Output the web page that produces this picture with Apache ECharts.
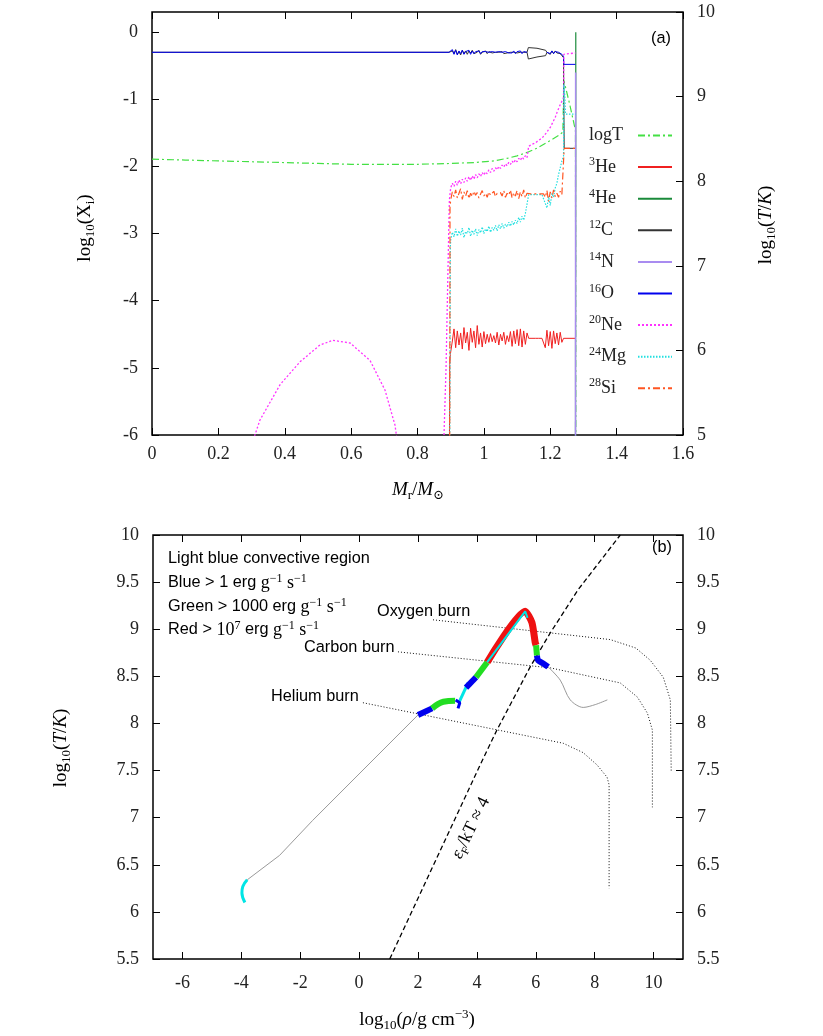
<!DOCTYPE html>
<html lang="en">
<head>
<meta charset="UTF-8" />
<title>Core composition and T-rho track</title>
<script src="https://cdn.jsdelivr.net/npm/echarts@6/dist/echarts.min.js"></script>
<style>
  html, body { margin: 0; padding: 0; background: #fff; }
  #main { width: 823px; height: 1036px; }
</style>
</head>
<body>
<div id="main"></div>
<script>
const SERIF = '"Liberation Serif", "DejaVu Serif", serif'
const SANS = '"Liberation Sans", "DejaVu Sans", sans-serif'

// ---- panel (a): abundances vs mass ----
const massTicks = [0, 0.2, 0.4, 0.6, 0.8, 1, 1.2, 1.4, 1.6]
const xiTicks = [-6, -5, -4, -3, -2, -1, 0]
const tempTicksA = [5, 6, 7, 8, 9, 10]

// mass grid of the noisy shell region
const mShell = [
  0.900, 0.905, 0.910, 0.915, 0.920, 0.925, 0.930, 0.935, 0.940, 0.945,
  0.950, 0.955, 0.960, 0.965, 0.970, 0.975, 0.980, 0.985, 0.990, 0.995,
  1.000, 1.005, 1.010, 1.015, 1.020, 1.025, 1.030, 1.035, 1.040, 1.045,
  1.050, 1.055, 1.060, 1.065, 1.070, 1.075, 1.080, 1.085, 1.090, 1.095,
  1.100, 1.105, 1.110, 1.115, 1.120, 1.125, 1.130, 1.135, 1.140, 1.145,
  1.150, 1.155, 1.160, 1.165, 1.170, 1.175, 1.180, 1.185, 1.190, 1.195,
  1.200, 1.205, 1.210, 1.215, 1.220, 1.225, 1.230, 1.235, 1.240
]

const logT = [[0, 8.26], [0.1, 8.25], [0.2, 8.24], [0.3, 8.23], [0.4, 8.22], [0.5, 8.21], [0.6, 8.2], [0.7, 8.2],
  [0.8, 8.2], [0.9, 8.21], [0.97, 8.22], [1.03, 8.24], [1.07, 8.27], [1.1, 8.3], [1.13, 8.34], [1.16, 8.39],
  [1.2, 8.48], [1.225, 8.54], [1.238, 8.58], [1.241, 9.19], [1.258, 8.92], [1.276, 8.6], [1.277, 4.9]]

const he3Rise = [[0.896, -6.5], [0.897, -4.95], [0.899, -4.8]]
const he3Shell = [
  -4.78, -4.60, -4.42, -4.70, -4.45, -4.66, -4.48, -4.72, -4.40, -4.63,
  -4.47, -4.74, -4.41, -4.62, -4.45, -4.70, -4.37, -4.65, -4.48, -4.69,
  -4.46, -4.64, -4.50, -4.62, -4.49, -4.61, -4.52, -4.63, -4.47, -4.66,
  -4.50, -4.60, -4.47, -4.65, -4.52, -4.61, -4.46, -4.68, -4.45, -4.64,
  -4.43, -4.67, -4.42, -4.69, -4.45, -4.65, -4.48, -4.56, -4.56, -4.56,
  -4.56, -4.56, -4.56, -4.56, -4.56, -4.56, -4.56, -4.70, -4.44, -4.67,
  -4.46, -4.71, -4.45, -4.64, -4.48, -4.66, -4.47, -4.62, -4.56
]
const he3Tail = [[1.276, -4.56]]

const he4 = [[1.276, -6.5], [1.277, 0]]

const c12Core = [[0, -0.3], [0.895, -0.3]]
const c12Shell = [
  -0.30, -0.28, -0.32, -0.26, -0.33, -0.29, -0.34, -0.27, -0.32, -0.28,
  -0.33, -0.28, -0.31, -0.27, -0.32, -0.30, -0.30, -0.27, -0.33, -0.30,
  -0.30, -0.28, -0.32, -0.29, -0.30, -0.31, -0.29, -0.30, -0.31, -0.30,
  -0.30, -0.29, -0.32, -0.30, -0.31, -0.29, -0.30, -0.32, -0.30, -0.29,
  -0.31, -0.29, -0.30, -0.31, -0.30, -0.29, -0.30, null, null, null,
  null, null, null, null, null, null, null, null, -0.30, -0.28,
  -0.33, -0.28, -0.32, -0.28, -0.31, -0.30, -0.32, -0.35, -0.38
]
const c12Tail = [[1.241, -0.38], [1.242, -1.73], [1.276, -1.73], [1.277, null]]
const c12Lens = [[1.13, -0.3], [1.134, -0.23], [1.16, -0.24], [1.186, -0.27], [1.19, -0.3],
  [1.186, -0.35], [1.16, -0.37], [1.134, -0.4], [1.13, -0.3]]

const n14 = [[1.276, -6.5], [1.2765, -0.6]]

const o16Core = [[0, -0.3], [0.895, -0.3]]
const o16Shell = [
  -0.30, -0.26, -0.33, -0.27, -0.34, -0.28, -0.32, -0.27, -0.33, -0.29,
  -0.31, -0.27, -0.33, -0.28, -0.32, -0.29, -0.31, -0.28, -0.32, -0.29,
  -0.31, -0.29, -0.31, -0.30, -0.31, -0.29, -0.31, -0.30, -0.30, -0.29,
  -0.31, -0.30, -0.31, -0.29, -0.30, -0.31, -0.29, -0.31, -0.28, -0.32,
  -0.29, -0.31, -0.28, -0.32, -0.29, -0.31, -0.30, null, null, null,
  null, null, null, null, null, null, null, null, -0.30, -0.28,
  -0.32, -0.28, -0.32, -0.29, -0.31, -0.30, -0.31, -0.33, -0.36
]
const o16Tail = [[1.241, -0.48], [1.276, -0.48]]

const ne20Low = [[0.29, -6.3], [0.325, -5.78], [0.386, -5.25], [0.446, -4.91], [0.506, -4.66], [0.545, -4.59],
  [0.597, -4.63], [0.657, -4.89], [0.702, -5.33], [0.732, -5.85], [0.745, -6.3], [0.878, -6.3],
  [0.886, -5.0], [0.892, -3.5], [0.896, -2.5]]
const ne20Shell = [
  -2.32, -2.25, -2.30, -2.22, -2.28, -2.20, -2.26, -2.19, -2.24, -2.17,
  -2.22, -2.15, -2.21, -2.14, -2.19, -2.12, -2.17, -2.11, -2.15, -2.09,
  -2.13, -2.08, -2.11, -2.05, -2.09, -2.03, -2.07, -2.02, -2.05, -2.00,
  -2.03, -1.98, -2.01, -1.96, -1.99, -1.94, -1.97, -1.92, -1.95, -1.90,
  -1.93, -1.88, -1.91, -1.86, -1.89, -1.84, -1.87, -1.70, -1.68, -1.67,
  -1.66, -1.65, -1.63, -1.61, -1.60, -1.58, -1.56, -1.52, -1.49, -1.45,
  -1.42, -1.37, -1.32, -1.27, -1.20, -1.14, -1.08, -1.03, -0.98
]
const ne20Tail = [[1.241, -0.33], [1.276, -0.31]]

const mg24Rise = [[0.897, -6.5], [0.899, -3.2]]
const mg24Shell = [
  -3.10, -2.98, -3.05, -2.93, -3.04, -2.96, -3.02, -2.92, -3.06, -2.97,
  -3.00, -2.91, -3.04, -2.95, -3.01, -2.93, -3.03, -2.94, -2.99, -2.90,
  -3.00, -2.93, -2.97, -2.89, -2.98, -2.91, -2.95, -2.88, -2.96, -2.87,
  -2.93, -2.85, -2.92, -2.86, -2.90, -2.83, -2.89, -2.82, -2.87, -2.80,
  -2.85, -2.76, -2.83, -2.74, -2.80, -2.70, -2.72, -2.42, -2.42, -2.42,
  -2.42, -2.42, -2.42, -2.42, -2.42, -2.42, -2.42, -2.55, -2.62, -2.45,
  -2.58, -2.40, -2.46, -2.32, -2.25, -2.12, -2.02, -1.92, -1.85
]
const mg24Tail = [[1.241, -0.78], [1.244, -0.95], [1.246, -1.22], [1.276, -1.22]]

const si28Rise = [[0.897, -6.5], [0.898, -2.6]]
const si28Shell = [
  -2.50, -2.38, -2.45, -2.35, -2.47, -2.40, -2.33, -2.49, -2.38, -2.44,
  -2.36, -2.48, -2.40, -2.45, -2.37, -2.43, -2.39, -2.47, -2.41, -2.36,
  -2.44, -2.40, -2.46, -2.38, -2.43, -2.41, -2.37, -2.45, -2.40, -2.42,
  -2.39, -2.44, -2.36, -2.46, -2.40, -2.43, -2.35, -2.47, -2.39, -2.44,
  -2.36, -2.48, -2.38, -2.45, -2.35, -2.47, -2.40, -2.41, -2.41, -2.41,
  -2.41, -2.41, -2.41, -2.41, -2.41, -2.41, -2.41, -2.46, -2.36, -2.52,
  -2.38, -2.47, -2.35, -2.45, -2.40, -2.46, -2.37, -2.42, -2.41
]
const si28Tail = [[1.241, -2.41], [1.242, -1.73], [1.276, -1.73]]

// ---- panel (b): T-rho track ----
const rhoTicks = [-6, -4, -2, 0, 2, 4, 6, 8, 10]
const tempTicksB = [5.5, 6, 6.5, 7, 7.5, 8, 8.5, 9, 9.5, 10]

const heBurn = [[0.13, 8.22], [6.93, 7.79], [7.61, 7.69], [8.08, 7.56], [8.42, 7.43], [8.49, 7.35], [8.49, 6.25]]
const cBurn = [[1.32, 8.76], [6.49, 8.59], [8.87, 8.43], [9.45, 8.28], [9.79, 8.11], [9.96, 7.93], [9.96, 7.11]]
const oBurn = [[2.51, 9.10], [8.53, 8.89], [9.4, 8.8], [9.89, 8.67], [10.33, 8.49], [10.57, 8.25], [10.6, 7.48]]
const degenLine = [[1.04, 5.5], [2.47, 6.46], [4.11, 7.56], [4.68, 7.93], [5.81, 8.6], [6.49, 8.96], [7.44, 9.42], [8.87, 10.0]]

const trackCyanStart = [[-3.88, 6.1], [-3.98, 6.2], [-3.95, 6.27], [-3.8, 6.34]]
const trackGrayLow = [[-3.8, 6.34], [-2.7, 6.6], [-1.58, 6.97], [2.0, 8.09]]
const trackBlue1 = [[2.0, 8.09], [2.48, 8.16]]
const trackGreen1 = [[2.48, 8.16], [2.86, 8.23], [3.26, 8.24]]
const trackBlueTri = [[3.28, 8.25], [3.42, 8.22], [3.36, 8.16]]
const trackCyan1 = [[3.39, 8.22], [3.7, 8.43]]
const trackBlue2 = [[3.63, 8.38], [3.97, 8.49]]
const trackGreen2 = [[3.97, 8.49], [4.35, 8.65]]
const trackRed = [[4.35, 8.65], [5.64, 9.19], [5.87, 9.07], [5.98, 8.86], [6.01, 8.83]]
const trackCyanRed = [[4.35, 8.65], [5.64, 9.19], [5.72, 9.12]]
const trackGreen3 = [[6.01, 8.83], [6.04, 8.72]]
const trackBlue3 = [[6.04, 8.72], [6.08, 8.67], [6.24, 8.64], [6.42, 8.6]]
const trackGrayHigh = [[6.42, 8.6], [6.83, 8.46], [7.17, 8.25], [7.61, 8.17], [8.02, 8.2], [8.43, 8.25]]

const onShell = ys => mShell.map((m, i) => [m, ys[i]])

function axis(gridIndex, position, min, max, ticks, showLabels, margin) {
  return {
    type: 'value', gridIndex, position, min, max,
    axisLine: { show: false, onZero: false },
    splitLine: { show: false },
    axisTick: { inside: true, length: 7, customValues: ticks, lineStyle: { color: '#000', width: 1 } },
    axisLabel: {
      show: showLabels, customValues: ticks, margin: margin || 14,
      fontFamily: SERIF, fontSize: 18, color: '#222'
    }
  }
}

function line(name, data, color, width, type, xi, yi, extra) {
  return Object.assign({
    type: 'line', name, data, xAxisIndex: xi, yAxisIndex: yi,
    symbol: 'none', showSymbol: false, animation: false, silent: true,
    lineStyle: { color, width, type: type || 'solid' },
    itemStyle: { color },
    emphasis: { disabled: true }
  }, extra || {})
}

const DASHDOT = [7, 3, 2, 3]

const topSeries = [
  line('logT', logT, '#44e044', 1.2, DASHDOT, 0, 1),
  line('3He', he3Rise.concat(onShell(he3Shell), he3Tail), '#f02020', 1, 'solid', 0, 0),
  line('4He', he4, '#1a8a3a', 1.2, 'solid', 0, 0),
  line('12C', c12Core.concat(onShell(c12Shell), c12Tail, c12Lens), '#333333', 1, 'solid', 0, 0),
  line('14N', n14, '#a98cf0', 1.5, 'solid', 0, 0),
  line('16O', o16Core.concat(onShell(o16Shell), o16Tail), '#0000ee', 1, 'solid', 0, 0),
  line('20Ne', ne20Low.concat(onShell(ne20Shell), ne20Tail), '#ff33ff', 1.3, [2, 2], 0, 0),
  line('24Mg', mg24Rise.concat(onShell(mg24Shell), mg24Tail), '#22e0e0', 1.2, [1.5, 1.5], 0, 0),
  line('28Si', si28Rise.concat(onShell(si28Shell), si28Tail), '#ff5522', 1.2, DASHDOT, 0, 0)
]

const BLUE = '#0000ee', GREEN = '#22dd22', RED = '#ee1111', CYAN = '#00e5e5', GRAY = '#9a9a9a'
const bottomSeries = [
  line('He burn', heBurn, '#111', 1, [1, 2], 2, 2),
  line('C burn', cBurn, '#111', 1, [1, 2], 2, 2),
  line('O burn', oBurn, '#111', 1, [1, 2], 2, 2),
  line('degeneracy', degenLine, '#000', 1.3, [5, 3], 2, 2),
  line('track low', trackGrayLow, GRAY, 1, 'solid', 2, 2),
  line('track high', trackGrayHigh, GRAY, 1, 'solid', 2, 2, { smooth: 0.3 }),
  line('conv start', trackCyanStart, CYAN, 3, 'solid', 2, 2, { smooth: 0.4 }),
  line('conv 1', trackCyan1, CYAN, 3, 'solid', 2, 2),
  line('blue 1', trackBlue1, BLUE, 6, 'solid', 2, 2),
  line('green 1', trackGreen1, GREEN, 6, 'solid', 2, 2, { smooth: 0.4 }),
  line('blue tri', trackBlueTri, BLUE, 3, 'solid', 2, 2),
  line('blue 2', trackBlue2, BLUE, 6, 'solid', 2, 2),
  line('green 2', trackGreen2, GREEN, 6, 'solid', 2, 2),
  line('red', trackRed, RED, 7, 'solid', 2, 2, { smooth: 0.2 }),
  line('conv red', trackCyanRed, CYAN, 2, 'solid', 2, 2),
  line('green 3', trackGreen3, GREEN, 6, 'solid', 2, 2),
  line('blue 3', trackBlue3, BLUE, 6, 'solid', 2, 2, { smooth: 0.3 })
]

const mathRich = {
  n: { fontFamily: SERIF, fontSize: 19, lineHeight: 24, color: '#222' },
  it: { fontFamily: SERIF, fontStyle: 'italic', fontSize: 19, lineHeight: 24, color: '#222' },
  sub: { fontFamily: SERIF, fontSize: 13, lineHeight: 13, verticalAlign: 'bottom', color: '#222' },
  sup: { fontFamily: SERIF, fontSize: 13, lineHeight: 13, verticalAlign: 'top', color: '#222' }
}
const noteRich = {
  s: { fontFamily: SANS, fontSize: 16.3, lineHeight: 20, color: '#222' },
  m: { fontFamily: SERIF, fontSize: 18, lineHeight: 20, color: '#222' },
  sup: { fontFamily: SERIF, fontSize: 12, lineHeight: 12, verticalAlign: 'top', color: '#222' }
}

function text(x, y, str, rich, align, rotateDeg) {
  return {
    type: 'text', x, y, rotation: (rotateDeg || 0) * Math.PI / 180, silent: true,
    style: { text: str, rich, align: align || 'center', verticalAlign: 'middle' }
  }
}

const TK = '{n|log}{sub|10}{n|(}{it|T}{n|/}{it|K}{n|)}'
const ERG = '{s| erg }{m|g}{sup|−1}{m| s}{sup|−1}'

const graphics = [
  text(85, 228, '{n|log}{sub|10}{n|(X}{sub|i}{n|)}', mathRich, 'center', 90),
  text(766, 225, TK, mathRich, 'center', 90),
  text(418, 490, '{it|M}{sub|r}{n|/}{it|M}{sub|⊙}', mathRich, 'center'),
  text(61, 748, TK, mathRich, 'center', 90),
  text(417, 1020, '{n|log}{sub|10}{n|(}{it|ρ}{n|/g cm}{sup|−3}{n|)}', mathRich, 'center'),
  text(661, 39, '{s|(a)}', noteRich, 'center'),
  text(662, 548, '{s|(b)}', noteRich, 'center'),
  text(168, 559, '{s|Light blue convective region}', noteRich, 'left'),
  text(168, 583, '{s|Blue > 1}' + ERG, noteRich, 'left'),
  text(168, 607, '{s|Green > 1000}' + ERG, noteRich, 'left'),
  text(168, 630, '{s|Red > }{m|10}{sup|7}' + ERG, noteRich, 'left'),
  text(377, 612, '{s|Oxygen burn}', noteRich, 'left'),
  text(304, 648, '{s|Carbon burn}', noteRich, 'left'),
  text(271, 697, '{s|Helium burn}', noteRich, 'left'),
  text(471, 828, '{it|ε}{sub|F}{n|/kT ≈ 4}', {
    n: { fontFamily: SERIF, fontSize: 18, lineHeight: 22, color: '#222' },
    it: { fontFamily: SERIF, fontStyle: 'italic', fontSize: 18, lineHeight: 22, color: '#222' },
    sub: { fontFamily: SERIF, fontSize: 11, lineHeight: 11, verticalAlign: 'bottom', color: '#222' }
  }, 'center', 64)
]

const legendNames = topSeries.map(s => s.name)
const legendRich = {
  n: { fontFamily: SERIF, fontSize: 18, lineHeight: 22, color: '#222', align: 'left' },
  sup: { fontFamily: SERIF, fontSize: 12, lineHeight: 12, verticalAlign: 'top', color: '#222', align: 'left' }
}

const chart = echarts.init(document.getElementById('main'), null, { renderer: 'canvas' })
chart.setOption({
  animation: false,
  backgroundColor: '#fff',
  textStyle: { fontFamily: SERIF },
  grid: [
    { left: 152, top: 12, width: 531, height: 423, show: true, borderColor: '#000', borderWidth: 1.5, backgroundColor: 'transparent' },
    { left: 153, top: 535, width: 530, height: 424, show: true, borderColor: '#000', borderWidth: 1.5, backgroundColor: 'transparent' }
  ],
  xAxis: [
    axis(0, 'bottom', 0, 1.6, massTicks, true, 10),
    axis(0, 'top', 0, 1.6, massTicks, false),
    axis(1, 'bottom', -7, 11, rhoTicks, true, 15),
    axis(1, 'top', -7, 11, rhoTicks, false)
  ],
  yAxis: [
    axis(0, 'left', -6, 0.3, xiTicks, true),
    axis(0, 'right', 5, 10, tempTicksA, true),
    axis(1, 'left', 5.5, 10, tempTicksB, true),
    axis(1, 'right', 5.5, 10, tempTicksB, true)
  ],
  legend: {
    data: legendNames,
    orient: 'vertical',
    left: 584, top: 121.5,
    align: 'right',
    itemWidth: 34, itemHeight: 12, itemGap: 11.6,
    selectedMode: false,
    itemStyle: { opacity: 0 },
    formatter: name => {
      if (name === 'logT') return '{n|logT}'
      const m = name.match(/^(\d+)(\D+)$/)
      return '{sup|' + m[1] + '}{n|' + m[2] + '}'
    },
    textStyle: { width: 44, fontFamily: SERIF, fontSize: 18, rich: legendRich }
  },
  series: topSeries.concat(bottomSeries),
  graphic: graphics
})
</script>
</body>
</html>
